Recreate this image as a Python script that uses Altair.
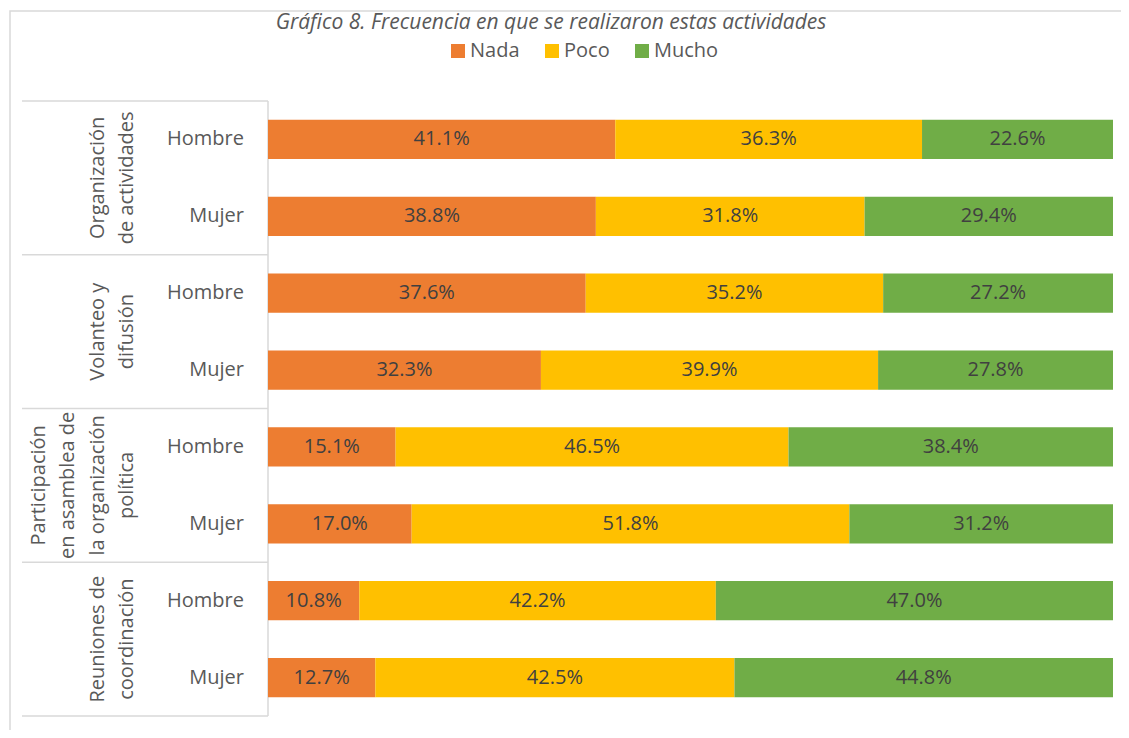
import altair as alt
import pandas as pd

FONT = "Open Sans"

titulo = "Gráfico 8. Frecuencia en que se realizaron estas actividades"
actividad_lineas = [
    ["Organización", "de actividades"],
    ["Volanteo y", "difusión"],
    ["Participación", "en asamblea de", "la organización", "política"],
    ["Reuniones de", "coordinación"],
]
sexos = ["Hombre", "Mujer"]
categorias = ["Nada", "Poco", "Mucho"]
colores = ["#ED7D31", "#FFC000", "#70AD47"]
nada = [41.1, 38.8, 37.6, 32.3, 15.1, 17.0, 10.8, 12.7]
poco = [36.3, 31.8, 35.2, 39.9, 46.5, 51.8, 42.2, 42.5]
mucho = [22.6, 29.4, 27.2, 27.8, 38.4, 31.2, 47.0, 44.8]

W, H = 845, 615
n_filas = len(actividad_lineas) * len(sexos)
step = H / n_filas

# long table for bars
filas = []
recs = []
fila_recs = []
k = 0
for g, lineas in enumerate(actividad_lineas):
    for s in sexos:
        fid = f"r{k}"
        filas.append(fid)
        fila_recs.append({"fila": fid, "sexo": s})
        for o, (cat, serie) in enumerate(zip(categorias, [nada, poco, mucho])):
            recs.append({"fila": fid, "categoria": cat, "orden": o, "valor": serie[k]})
        k += 1
df = pd.DataFrame(recs)
df_filas = pd.DataFrame(fila_recs)

# group label lines (layout computed from chart geometry)
lh = 29.5
right_line_x = -141
line_recs = []
for g, lineas in enumerate(actividad_lineas):
    n = len(lineas)
    for i, t in enumerate(lineas):
        line_recs.append({"px": right_line_x - (n - 1 - i) * lh,
                          "py": (2 * g + 1) * step, "t": t})
df_lines = pd.DataFrame(line_recs)
df_seps = pd.DataFrame({"py": [2 * g * step for g in range(len(actividad_lineas) + 1)]})
one = pd.DataFrame({"a": [0]})

yenc = alt.Y("fila:N", sort=filas, axis=None,
             scale=alt.Scale(paddingInner=0.49, paddingOuter=0.245))
xscale = alt.Scale(domain=[0, 100], nice=False, zero=True)

border = alt.Chart(one).mark_rect(fillOpacity=0, stroke="#D9D9D9", strokeWidth=1.5).encode(
    x=alt.value(-258), x2=alt.value(900), y=alt.value(-90), y2=alt.value(700))

title = alt.Chart(one).mark_text(
    text=titulo, font=FONT, fontStyle="italic", fontSize=21, color="#595959",
    align="center", baseline="alphabetic").encode(x=alt.value(283), y=alt.value(-72))

bars = alt.Chart(df).mark_bar().encode(
    x=alt.X("valor:Q", stack="zero", scale=xscale, axis=None),
    y=yenc,
    color=alt.Color("categoria:N", sort=categorias,
                    scale=alt.Scale(domain=categorias, range=colores),
                    legend=alt.Legend(title=None, orient="none", legendX=180, legendY=-60,
                                      direction="horizontal", symbolType="square",
                                      symbolSize=196, symbolStrokeWidth=0,
                                      labelFontSize=20, labelFont=FONT, labelColor="#595959",
                                      columnPadding=22, labelOffset=2)),
    order=alt.Order("orden:Q"),
)

labels = alt.Chart(df).transform_stack(
    stack="valor", groupby=["fila"], as_=["x0", "x1"], sort=[alt.SortField("orden")]
).transform_calculate(
    mid="(datum.x0 + datum.x1) / 2",
    etiqueta="format(datum.valor, '.1f') + '%'",
).mark_text(font=FONT, fontSize=20, color="#404040").encode(
    x=alt.X("mid:Q", scale=xscale, axis=None),
    y=yenc,
    text="etiqueta:N",
)

sexo_labels = alt.Chart(df_filas).mark_text(
    font=FONT, fontSize=20, color="#595959", align="right", baseline="middle").encode(
    x=alt.value(-24), y=yenc, text="sexo:N")

group_labels = alt.Chart(df_lines).mark_text(
    font=FONT, fontSize=20, color="#595959", angle=270, align="center", baseline="middle").encode(
    x=alt.X("px:Q", scale=None), y=alt.Y("py:Q", scale=None), text="t:N")

seps = alt.Chart(df_seps).mark_rule(color="#D9D9D9", strokeWidth=1.5).encode(
    x=alt.value(-246), x2=alt.value(0), y=alt.Y("py:Q", scale=None))

vline = alt.Chart(one).mark_rule(color="#D9D9D9", strokeWidth=1.5).encode(
    x=alt.value(0), y=alt.value(0), y2=alt.value(H))

chart = alt.layer(border, title, seps, vline, bars, labels, sexo_labels, group_labels).properties(
    width=W, height=H,
    autosize=alt.AutoSizeParams(type="none"),
    padding={"left": 260, "top": 93, "right": 8, "bottom": 14},
).configure_view(strokeWidth=0)

chart.save("out.html", embed_options={"renderer": "svg", "actions": False})
